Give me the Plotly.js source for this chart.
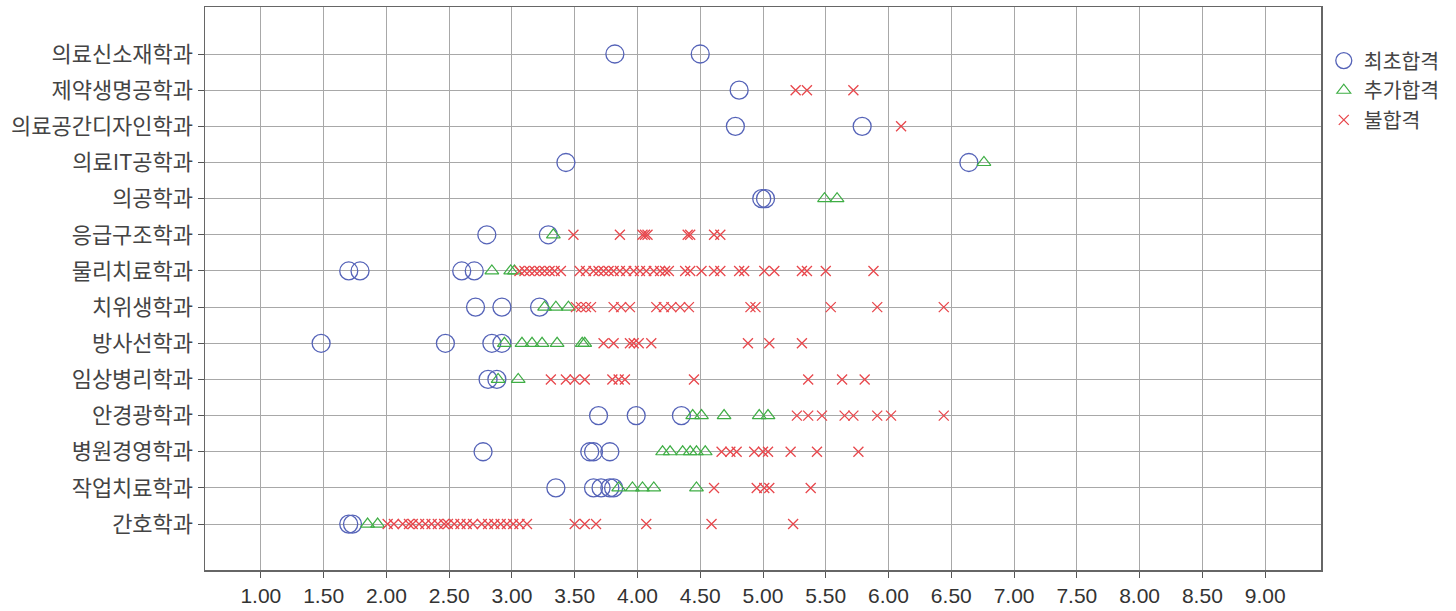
<!DOCTYPE html>
<html>
<head>
<meta charset="utf-8">
<script src="https://cdn.plot.ly/plotly-3.0.1.min.js"></script>
<style>
  html, body { margin: 0; padding: 0; background: #fff; }
  #chart { width: 1456px; height: 611px; }
</style>
</head>
<body>
<div id="chart"></div>
<script>
// departments, bottom row first (same order as the y axis)
var departments = ['간호학과', '작업치료학과', '병원경영학과', '안경광학과', '임상병리학과',
  '방사선학과', '치위생학과', '물리치료학과', '응급구조학과', '의공학과',
  '의료IT공학과', '의료공간디자인학과', '제약생명공학과', '의료신소재학과'];

// 최초합격 (first round), one list per department
var firstPass = [
  [1.70, 1.73],
  [3.35, 3.65, 3.71, 3.78, 3.81],
  [2.77, 3.62, 3.65, 3.78],
  [3.69, 3.99, 4.35],
  [2.81, 2.88],
  [1.48, 2.47, 2.84, 2.92],
  [2.71, 2.92, 3.22],
  [1.70, 1.79, 2.60, 2.70],
  [2.80, 3.29],
  [4.99, 5.02],
  [3.43, 6.64],
  [4.78, 5.79],
  [4.81],
  [3.82, 4.50]
];

// 추가합격 (additional round)
var extraPass = [
  [1.85, 1.93],
  [3.85, 3.96, 4.04, 4.13, 4.47],
  [4.20, 4.26, 4.36, 4.42, 4.47, 4.54],
  [4.44, 4.51, 4.69, 4.97, 5.04],
  [2.89, 3.05],
  [2.94, 3.08, 3.16, 3.24, 3.36, 3.56, 3.58],
  [3.26, 3.35, 3.45],
  [2.84, 2.99, 3.02],
  [3.33],
  [5.49, 5.59],
  [6.76],
  [],
  [],
  []
];

// 불합격 (rejected)
var rejected = [
  [2.01, 2.06, 2.13, 2.18, 2.21, 2.26, 2.31, 2.36, 2.41, 2.46, 2.49, 2.54, 2.59, 2.64,
   2.69, 2.76, 2.81, 2.86, 2.91, 2.96, 3.01, 3.06, 3.12, 3.50, 3.58, 3.67, 4.07, 4.59, 5.24],
  [4.61, 4.95, 5.01, 5.05, 5.38],
  [4.67, 4.74, 4.79, 4.93, 5.00, 5.04, 5.22, 5.43, 5.76],
  [5.27, 5.36, 5.47, 5.65, 5.72, 5.91, 6.02, 6.44],
  [3.31, 3.43, 3.50, 3.58, 3.80, 3.85, 3.90, 4.45, 5.36, 5.63, 5.81],
  [3.73, 3.81, 3.94, 3.97, 4.01, 4.11, 4.88, 5.05, 5.31],
  [3.51, 3.55, 3.59, 3.63, 3.81, 3.87, 3.94, 4.15, 4.21, 4.27, 4.34, 4.41, 4.90, 4.94,
   5.54, 5.91, 6.44],
  [3.06, 3.10, 3.14, 3.18, 3.22, 3.26, 3.30, 3.34, 3.39, 3.54, 3.59, 3.65, 3.69, 3.73,
   3.77, 3.81, 3.86, 3.91, 3.97, 4.02, 4.07, 4.13, 4.18, 4.22, 4.25, 4.38, 4.42, 4.51,
   4.61, 4.66, 4.81, 4.85, 5.01, 5.09, 5.31, 5.35, 5.50, 5.88],
  [3.49, 3.86, 4.04, 4.06, 4.08, 4.40, 4.42, 4.61, 4.66],
  [],
  [],
  [6.10],
  [5.26, 5.35, 5.72],
  []
];

var xTicks = [1, 1.5, 2, 2.5, 3, 3.5, 4, 4.5, 5, 5.5, 6, 6.5, 7, 7.5, 8, 8.5, 9];

// flatten one list-per-department into x / y arrays
function flatten(lists) {
  var xs = [], ys = [];
  lists.forEach(function (vals, i) {
    vals.forEach(function (v) { xs.push(v); ys.push(departments[i]); });
  });
  return {x: xs, y: ys};
}

var a = flatten(firstPass);
var b = flatten(extraPass);
var c = flatten(rejected);

var data = [
  {
    x: a.x, y: a.y, type: 'scatter', mode: 'markers', name: '최초합격',
    marker: {symbol: 'circle-open', size: 18, color: '#5563b8', line: {width: 1.3}}
  },
  {
    x: b.x, y: b.y, type: 'scatter', mode: 'markers', name: '추가합격',
    marker: {symbol: 'triangle-up-open', size: 12, color: '#3fae45', line: {width: 1.2}}
  },
  {
    x: c.x, y: c.y, type: 'scatter', mode: 'markers', name: '불합격',
    marker: {symbol: 'x-thin-open', size: 10, color: '#e8474c', line: {width: 1.3}}
  }
];

var layout = {
  width: 1456,
  height: 611,
  margin: {l: 205, r: 135, t: 7, b: 41, pad: 0},
  paper_bgcolor: '#fff',
  plot_bgcolor: '#fff',
  showlegend: true,
  legend: {
    x: 1.0025, y: 0.94, xanchor: 'left', yanchor: 'top',
    font: {family: 'Noto Sans CJK KR', size: 20.5, color: '#444'},
    itemsizing: 'trace', tracegroupgap: 0, bgcolor: 'rgba(0,0,0,0)'
  },
  xaxis: {
    range: [0.555, 9.445],
    tickvals: xTicks,
    tickformat: '.2f',
    ticks: 'outside', ticklen: 6, tickcolor: '#555',
    showgrid: true, gridcolor: '#a8a8a8', gridwidth: 1,
    zeroline: false,
    showline: true, linecolor: '#666', linewidth: 1.5, mirror: true,
    tickfont: {family: 'Liberation Sans, Arial, sans-serif', size: 21, color: '#333'}
  },
  yaxis: {
    type: 'category',
    categoryorder: 'array',
    categoryarray: departments,
    range: [-1.27, 14.3],
    ticks: 'outside', ticklen: 6, tickcolor: '#555',
    showgrid: true, gridcolor: '#a8a8a8', gridwidth: 1,
    zeroline: false,
    showline: true, linecolor: '#666', linewidth: 1.5, mirror: true,
    tickfont: {family: 'Noto Sans CJK KR', size: 22, color: '#444'}
  }
};

Plotly.newPlot('chart', data, layout, {displayModeBar: false, staticPlot: true});
</script>
</body>
</html>
